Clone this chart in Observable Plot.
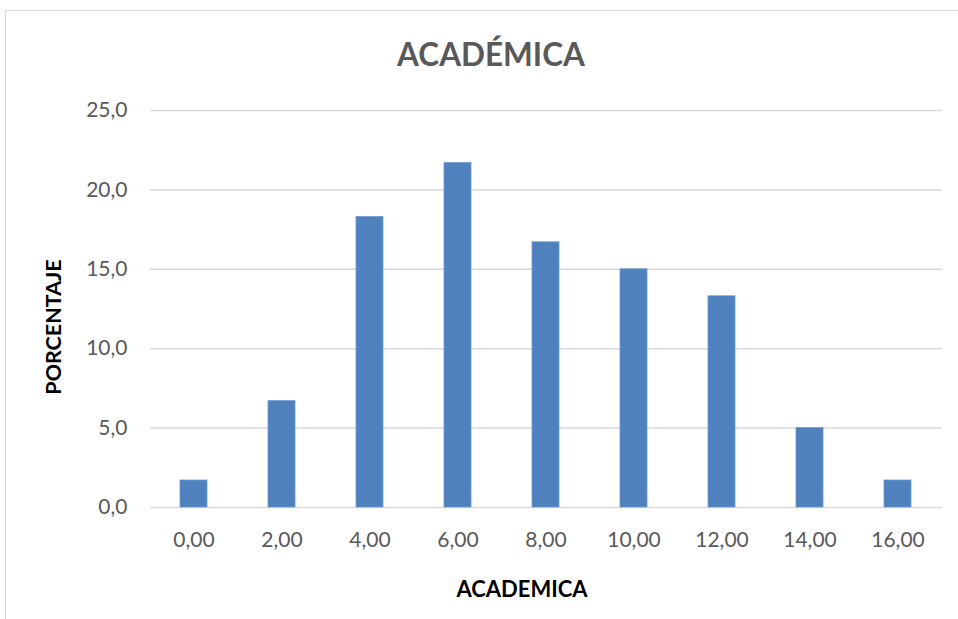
<!DOCTYPE html>
<html>
<head>
<meta charset="utf-8">
<script src="https://cdn.jsdelivr.net/npm/d3@7"></script>
<script src="https://cdn.jsdelivr.net/npm/@observablehq/plot@0.6"></script>
<style>
  html, body { margin: 0; padding: 0; background: #fff; }
  #wrap { position: relative; width: 958px; height: 619px; overflow: hidden; }
  #frame { position: absolute; left: 5px; top: 10px; width: 970px; height: 640px; border: 1.5px solid #d9d9d9; box-sizing: border-box; }
  #chart { position: absolute; left: 0; top: 0; }
</style>
</head>
<body>
<div id="wrap"><div id="frame"></div><div id="chart"></div></div>
<script>
const categories = ["0,00", "2,00", "4,00", "6,00", "8,00", "10,00", "12,00", "14,00", "16,00"];
const values = [1.7, 6.7, 18.3, 21.7, 16.7, 15.0, 13.3, 5.0, 1.7];
const yTicks = [0, 5, 10, 15, 20, 25];
const title = "ACADÉMICA";
const xLabel = "ACADEMICA";
const yLabel = "PORCENTAJE";

const data = categories.map((c, i) => ({cat: c, value: values[i]}));
const fmt = v => v.toFixed(1).replace(".", ",");
const font = "Lato, 'Open Sans', sans-serif";

const chart = Plot.plot({
  width: 958,
  height: 619,
  marginLeft: 150,
  marginRight: 16,
  marginTop: 110,
  marginBottom: 112,
  style: {fontFamily: font, background: "transparent", overflow: "visible"},
  x: {type: "band", domain: categories, paddingInner: 0.69, paddingOuter: 0.345, label: null},
  y: {domain: [0, 25], label: null},
  marks: [
    Plot.ruleY(yTicks, {stroke: "#d9d9d9", strokeWidth: 1.5}),
    Plot.barY(data, {x: "cat", y: "value", fill: "#4f81bd", stroke: "#6f9bd1", strokeWidth: 0.8}),
    Plot.axisY({ticks: yTicks, tickFormat: fmt, tickSize: 0, tickPadding: 23, fontSize: 21, fill: "#595959", label: null}),
    Plot.axisX({tickSize: 0, tickPadding: 25, fontSize: 21, fill: "#595959", label: null})
  ]
});
document.getElementById("chart").appendChild(chart);

const svg = d3.select(chart);
svg.append("text").text(title)
  .attr("x", 491).attr("y", 66).attr("text-anchor", "middle")
  .attr("font-family", font).attr("font-size", 31.5).attr("font-weight", "bold").attr("fill", "#595959");
svg.append("text").text(xLabel)
  .attr("x", 522).attr("y", 597).attr("text-anchor", "middle")
  .attr("font-family", font).attr("font-size", 22).attr("font-weight", "bold").attr("fill", "#000");
svg.append("text").text(yLabel)
  .attr("transform", "translate(61,327) rotate(-90)").attr("text-anchor", "middle")
  .attr("font-family", font).attr("font-size", 21.5).attr("font-weight", "bold").attr("fill", "#000");
</script>
</body>
</html>
